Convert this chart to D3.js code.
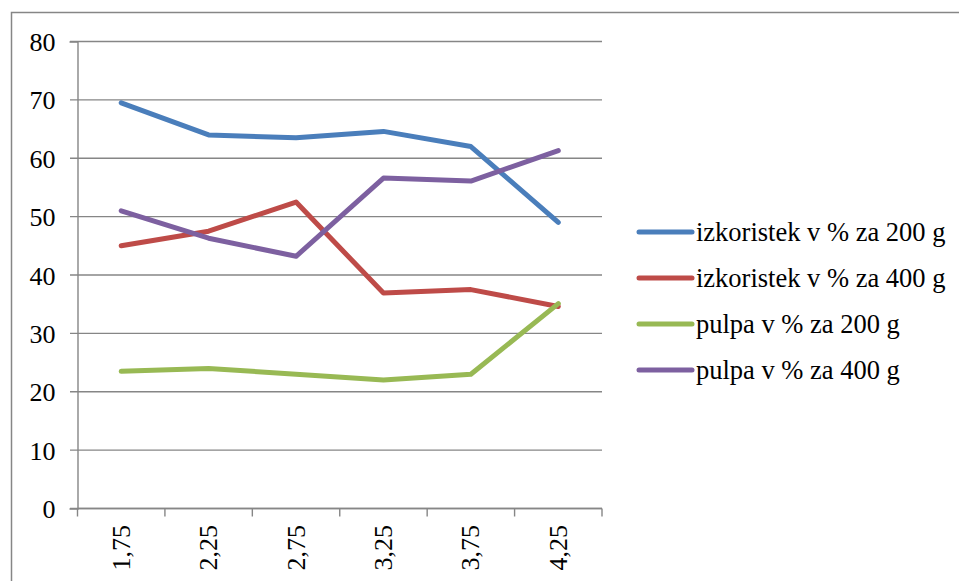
<!DOCTYPE html>
<html>
<head>
<meta charset="utf-8">
<script src="https://cdn.jsdelivr.net/npm/d3@7"></script>
<style>
  body { margin: 0; background: #fff; }
  svg { display: block; }
</style>
</head>
<body>
<div id="chart"></div>
<script>
// data
var categories = ["1,75", "2,25", "2,75", "3,25", "3,75", "4,25"];
var seriesNames = ["izkoristek v % za 200 g", "izkoristek v % za 400 g", "pulpa v % za 200 g", "pulpa v % za 400 g"];
var izkoristek200 = [69.5, 64, 63.5, 64.6, 62, 49];
var izkoristek400 = [45, 47.5, 52.5, 36.9, 37.5, 34.6];
var pulpa200 = [23.5, 24, 23, 22, 23, 35.1];
var pulpa400 = [51, 46.3, 43.2, 56.6, 56.1, 61.3];
var yTicks = [0, 10, 20, 30, 40, 50, 60, 70, 80];
var colors = ["#4a7ebb", "#be4b48", "#98b954", "#7d60a0"];

var allSeries = [izkoristek200, izkoristek400, pulpa200, pulpa400];

var serif = "Liberation Serif";
var width = 959, height = 581;
var plotLeft = 77.5, plotRight = 602, plotTop = 41.5, plotBottom = 508.5;

var svg = d3.select("#chart").append("svg")
    .attr("width", width)
    .attr("height", height);

// outer chart border (runs off the page on right / bottom)
svg.append("rect")
    .attr("x", 11.5).attr("y", 12.5)
    .attr("width", 1000).attr("height", 1000)
    .style("fill", "none")
    .style("stroke", "#868686")
    .style("stroke-width", 1.5);

var x = d3.scaleBand()
    .domain(categories)
    .range([plotLeft, plotRight]);

var y = d3.scaleLinear()
    .domain([0, 80])
    .range([plotBottom, plotTop]);

// gridlines
svg.selectAll("line.grid")
    .data(yTicks)
    .enter()
    .append("line")
    .attr("class", "grid")
    .attr("x1", plotLeft - 7.5)
    .attr("x2", plotRight)
    .attr("y1", function(d) { return y(d); })
    .attr("y2", function(d) { return y(d); })
    .style("stroke", "#868686")
    .style("stroke-width", 1.4);

// y axis
var yAxis = svg.append("g")
    .attr("transform", "translate(" + plotLeft + ",0)")
    .call(d3.axisLeft(y).tickValues(yTicks).tickSize(8).tickPadding(14));
yAxis.select(".domain").style("stroke", "#868686").style("stroke-width", 1.4);
yAxis.selectAll(".tick line").style("stroke", "none");
yAxis.selectAll("text")
    .style("font-size", "26px")
    .style("font-family", serif)
    .style("fill", "#000")
    .attr("dy", "0.35em");

// x axis: ticks at band boundaries
var xAxis = svg.append("g")
    .attr("transform", "translate(0," + plotBottom + ")");
xAxis.append("line")
    .attr("x1", plotLeft).attr("x2", plotRight)
    .style("stroke", "#868686").style("stroke-width", 1.4);
var bounds = categories.map(function(c) { return x(c); }).concat([plotRight]);
xAxis.selectAll("line.xt")
    .data(bounds)
    .enter()
    .append("line")
    .attr("class", "xt")
    .attr("x1", function(d) { return d; })
    .attr("x2", function(d) { return d; })
    .attr("y1", 0).attr("y2", 8)
    .style("stroke", "#868686").style("stroke-width", 1.4);
xAxis.selectAll("text")
    .data(categories)
    .enter()
    .append("text")
    .attr("transform", function(d) {
        return "translate(" + (x(d) + x.bandwidth() / 2 + 8.5) + ",16.5) rotate(-90)";
    })
    .attr("text-anchor", "end")
    .style("font-size", "26px")
    .style("font-family", serif)
    .style("fill", "#000")
    .text(function(d) { return d; });

// lines
var line = d3.line()
    .x(function(d, i) { return x(categories[i]) + x.bandwidth() / 2; })
    .y(function(d) { return y(d); });

svg.selectAll("path.series")
    .data(allSeries)
    .enter()
    .append("path")
    .attr("class", "series")
    .attr("d", line)
    .style("fill", "none")
    .style("stroke", function(d, i) { return colors[i]; })
    .style("stroke-width", 5)
    .style("stroke-linejoin", "round")
    .style("stroke-linecap", "round");

// legend
var legend = svg.selectAll("g.legend")
    .data(seriesNames)
    .enter()
    .append("g")
    .attr("class", "legend")
    .attr("transform", function(d, i) { return "translate(639," + (232 + i * 46) + ")"; });

legend.append("line")
    .attr("x1", 0).attr("x2", 53)
    .style("stroke", function(d, i) { return colors[i]; })
    .style("stroke-width", 5)
    .style("stroke-linecap", "round");

legend.append("text")
    .attr("x", 57)
    .attr("dy", "0.33em")
    .style("font-size", "26.5px")
    .style("font-family", serif)
    .style("fill", "#000")
    .text(function(d) { return d; });
</script>
</body>
</html>
